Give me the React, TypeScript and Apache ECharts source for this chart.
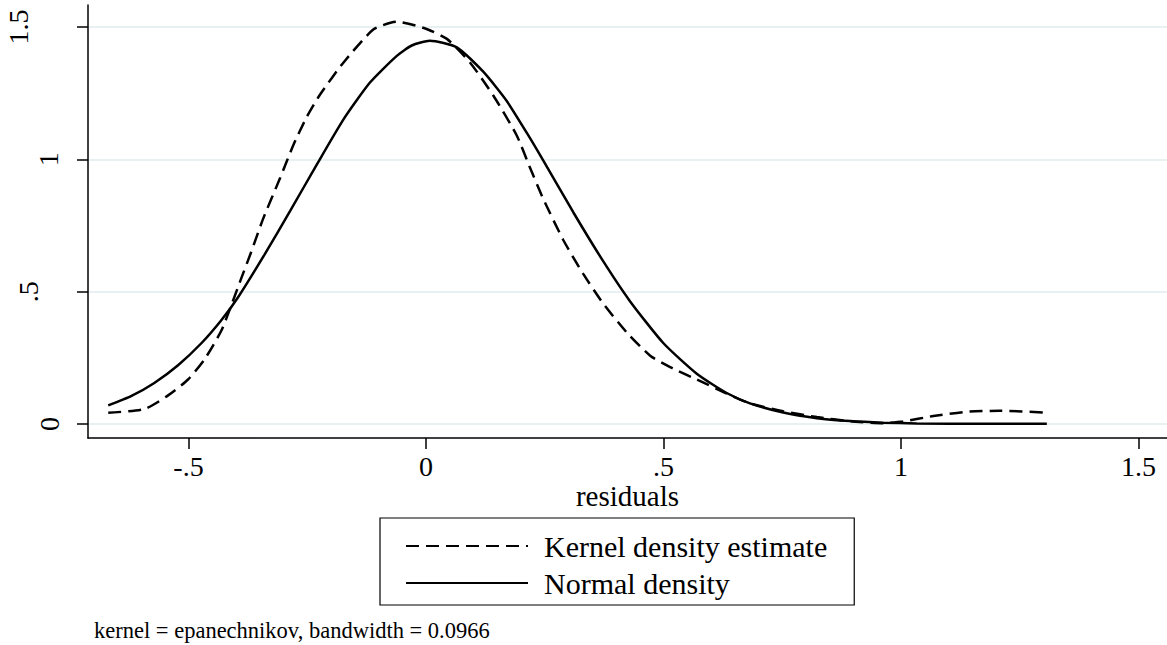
import React, { useEffect, useRef } from "react";
import * as echarts from "echarts";

const kernelX = [-0.669, -0.592, -0.543, -0.501, -0.466, -0.431, -0.41, -0.389, -0.368, -0.343, -0.307, -0.279, -0.251, -0.223, -0.174, -0.111, -0.062, -0.006, 0.044, 0.093, 0.142, 0.191, 0.219, 0.247, 0.289, 0.331, 0.373, 0.423, 0.472, 0.514, 0.57, 0.633, 0.682, 0.752, 0.823, 0.893, 0.963, 1.004, 1.068, 1.138, 1.208, 1.307];
const kernelY = [0.042, 0.057, 0.108, 0.168, 0.245, 0.352, 0.448, 0.55, 0.65, 0.775, 0.93, 1.055, 1.16, 1.245, 1.365, 1.49, 1.52, 1.497, 1.455, 1.365, 1.24, 1.09, 0.968, 0.85, 0.695, 0.567, 0.455, 0.345, 0.258, 0.215, 0.168, 0.115, 0.078, 0.048, 0.026, 0.01, 0.003, 0.009, 0.03, 0.046, 0.05, 0.043];

const normalX = [-0.669, -0.62, -0.572, -0.522, -0.473, -0.431, -0.396, -0.34, -0.286, -0.23, -0.174, -0.118, -0.062, -0.03, 0.008, 0.065, 0.121, 0.17, 0.219, 0.247, 0.31, 0.373, 0.429, 0.5, 0.57, 0.633, 0.682, 0.752, 0.823, 0.893, 0.963, 1.033, 1.174, 1.307];
const normalY = [0.07, 0.106, 0.155, 0.222, 0.305, 0.392, 0.478, 0.64, 0.805, 0.98, 1.15, 1.29, 1.39, 1.43, 1.448, 1.423, 1.33, 1.22, 1.08, 0.995, 0.8, 0.615, 0.465, 0.305, 0.19, 0.117, 0.078, 0.043, 0.022, 0.011, 0.005, 0.002, 0.001, 0.001];

const xTicks = [-0.5, 0, 0.5, 1, 1.5];
const xTickLabels = ["-.5", "0", ".5", "1", "1.5"];
const yTicks = [0, 0.5, 1, 1.5];
const yTickLabels = ["0", ".5", "1", "1.5"];

const seriesNames = ["Kernel density estimate", "Normal density"];
const xTitle = "residuals";
const note = "kernel = epanechnikov, bandwidth = 0.0966";

const FONT = "Liberation Serif";

export default function App() {
  const ref = useRef<HTMLDivElement>(null);
  useEffect(() => {
    if (!ref.current) return;
    const chart = echarts.init(ref.current, undefined, { renderer: "svg" });
    const yShift = [0, 21, 1, 31];
    const rich: Record<string, any> = {};
    yTickLabels.forEach((_, i) => {
      rich["y" + i] = {
        fontFamily: FONT,
        fontSize: 28,
        color: "#000",
        padding: [0, 0, yShift[i], 0],
      };
    });
    chart.setOption({
      animation: false,
      backgroundColor: "#fff",
      title: {
        text: note,
        left: 94,
        top: 619,
        padding: 0,
        textStyle: { fontFamily: FONT, fontSize: 22.5, fontWeight: "normal", color: "#000" },
      },
      legend: {
        orient: "vertical",
        left: 380,
        top: 518,
        padding: [12, 27, 6, 25],
        itemGap: 5,
        itemWidth: 122,
        itemHeight: 14,
        borderColor: "#000",
        borderWidth: 1.2,
        borderRadius: 0,
        itemStyle: { opacity: 0 },
        textStyle: { fontFamily: FONT, fontSize: 30, color: "#000", lineHeight: 32, padding: [0, 0, 0, 11] },
        data: seriesNames,
      },
      grid: { left: 88, right: 0, top: 5, bottom: 207, containLabel: false },
      xAxis: {
        type: "value",
        min: -0.7116,
        max: 1.56,
        name: xTitle,
        nameLocation: "middle",
        nameGap: 43,
        nameMoveOverlap: false,
        nameTextStyle: { fontFamily: FONT, fontSize: 29, lineHeight: 29, color: "#000" },
        axisLine: { show: true, onZero: false, lineStyle: { color: "#000", width: 1.5 } },
        axisTick: { show: true, length: 11, customValues: xTicks, lineStyle: { color: "#000", width: 1.5 } },
        axisLabel: {
          customValues: xTicks,
          margin: 14,
          fontFamily: FONT,
          fontSize: 28,
          lineHeight: 28,
          color: "#000",
          formatter: (v: number) => {
            const i = xTicks.findIndex((t) => Math.abs(t - v) < 1e-9);
            return i >= 0 ? xTickLabels[i] : "";
          },
        },
        splitLine: { show: false },
      },
      yAxis: {
        type: "value",
        min: -0.053,
        max: 1.583,
        axisLine: { show: true, onZero: false, lineStyle: { color: "#000", width: 1.5 } },
        axisTick: { show: true, length: 11, customValues: yTicks, lineStyle: { color: "#000", width: 1.5 } },
        axisLabel: {
          customValues: yTicks,
          rotate: 90,
          margin: 25,
          fontFamily: FONT,
          fontSize: 28,
          color: "#000",
          rich,
          formatter: (v: number) => {
            const i = yTicks.findIndex((t) => Math.abs(t - v) < 1e-9);
            return i >= 0 ? "{y" + i + "|" + yTickLabels[i] + "}" : "";
          },
        },
        splitLine: { show: true, lineStyle: { color: "#e8f0f2", width: 2 } },
      },
      series: [
        {
          name: seriesNames[0],
          type: "line",
          data: kernelX.map((x, i) => [x, kernelY[i]]),
          symbol: "none",
          smooth: 0.2,
          lineStyle: { color: "#000", width: 2.5, type: [13, 7] },
          itemStyle: { color: "#000" },
        },
        {
          name: seriesNames[1],
          type: "line",
          data: normalX.map((x, i) => [x, normalY[i]]),
          symbol: "none",
          smooth: 0.2,
          lineStyle: { color: "#000", width: 2.5, type: "solid" },
          itemStyle: { color: "#000" },
        },
      ],
    });
    return () => chart.dispose();
  }, []);
  return (
    <div
      ref={ref}
      style={{ position: "absolute", left: 0, top: 0, width: 1167, height: 645 }}
    />
  );
}
